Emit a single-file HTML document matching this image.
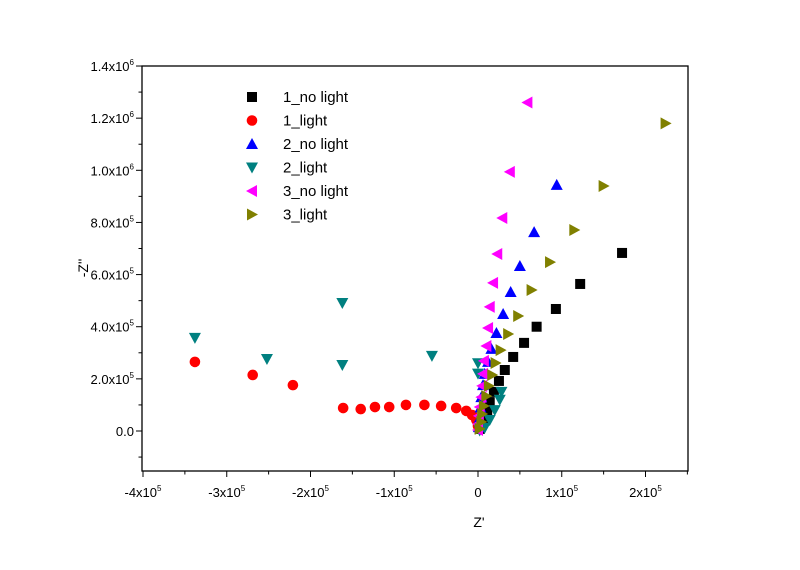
<!DOCTYPE html>
<html><head><meta charset="utf-8"><style>
body{margin:0;background:#fff}
svg text{font-family:"Liberation Sans",Arial,sans-serif;fill:#000}
</style></head><body>
<svg id="c" width="800" height="565" xmlns="http://www.w3.org/2000/svg"></svg>
<script>
const xTicks=[-4,-3,-2,-1,0,1,2];
const yTicks=[0,2,4,6,8,10,12,14];
const seriesNames=["1_no light","1_light","2_no light","2_light","3_no light","3_light"];
const s1nx=[1.72,1.22,0.93,0.70,0.55,0.42,0.32,0.25,0.19,0.14,0.11,0.07,0.05,0.02];
const s1ny=[6.83,5.64,4.68,4.0,3.38,2.84,2.34,1.92,1.5,1.11,0.8,0.5,0.27,0.08];
const s1lx=[-3.38,-2.69,-2.21,-1.61,-1.40,-1.23,-1.06,-0.86,-0.64,-0.44,-0.26,-0.14,-0.07,-0.02,0];
const s1ly=[2.65,2.15,1.76,0.88,0.84,0.92,0.92,1.0,1.0,0.96,0.88,0.77,0.61,0.42,0.19];
const s2nx=[0.94,0.67,0.50,0.39,0.30,0.22,0.16,0.12,0.08,0.06,0.04,0.03,0.02,0.01];
const s2ny=[9.44,7.63,6.33,5.33,4.49,3.76,3.15,2.65,2.19,1.76,1.3,0.9,0.5,0.15];
const s2lx=[-3.38,-2.52,-1.62,-1.62,-0.55,0,0,0.28,0.26,0.20,0.14,0.08,0.02];
const s2ly=[3.57,2.76,4.91,2.53,2.88,2.6,2.2,1.5,1.2,0.8,0.42,0.12,0.02];
const s3nx=[0.59,0.38,0.29,0.23,0.18,0.14,0.12,0.10,0.07,0.06,0.05,0.04,0.02,0.01,0,0];
const s3ny=[12.6,9.94,8.17,6.79,5.68,4.76,3.95,3.26,2.69,2.19,1.73,1.3,0.92,0.58,0.27,0.04];
const s3lx=[2.24,1.50,1.15,0.86,0.64,0.48,0.36,0.27,0.21,0.17,0.13,0.10,0.07,0.05,0.04,0.02];
const s3ly=[11.8,9.4,7.71,6.48,5.41,4.41,3.72,3.1,2.61,2.15,1.73,1.34,0.96,0.65,0.35,0.08];
const NS="http://www.w3.org/2000/svg",svg=document.getElementById('c');
const X0=478,XS=83.75,Y0=431,YS=26.07;
const sx=v=>X0+v*XS, sy=v=>Y0-v*YS;
function mk(t,a,p){const e=document.createElementNS(NS,t);for(const k in a)e.setAttribute(k,a[k]);(p||svg).appendChild(e);return e;}
const L=142,R=688,T=66,B=471;
const frame=mk('rect',{x:L,y:T,width:R-L,height:B-T,fill:'none',stroke:'#000','stroke-width':1.3});


for(let v=-4;v<=2.5;v+=0.5){const big=Number.isInteger(v);
 const t=mk('line',{x1:sx(v),x2:sx(v),y1:B,y2:B+(big?6:3.5),stroke:'#000'});}
xTicks.forEach(v=>{const g=mk('text',{x:sx(v),y:497,'text-anchor':'middle','font-size':13});
 
 if(v===0){g.textContent='0';}else{g.textContent=v+'x10';const s=mk('tspan',{'font-size':8,dy:-6},g);s.textContent='5';}});
for(let v=-1;v<=14;v+=1){const big=(v%2===0);
 const t=mk('line',{x1:L,x2:L-(big?6:3.5),y1:sy(v),y2:sy(v),stroke:'#000'});}
yTicks.forEach(v=>{const g=mk('text',{x:134,y:sy(v)+5,'text-anchor':'end','font-size':13});
 
 if(v===0){g.textContent='0.0';}else{const m=v>=10?(v/10).toFixed(1):(v).toFixed(1);g.textContent=m+'x10';const s=mk('tspan',{'font-size':8,dy:-6},g);s.textContent=v>=10?'6':'5';}});
const xt=mk('text',{x:479,y:527,'text-anchor':'middle','font-size':14});xt.textContent="Z'";

const yt=mk('text',{x:88,y:268,'text-anchor':'middle','font-size':14,transform:'rotate(-90 88 268)'});yt.textContent="-Z''";

function marker(kind,x,y,p){
 const c={sq:'#000',ci:'#f00',up:'#00f',dn:'#008080',lf:'#f0f',rt:'#808000'}[kind];
 if(kind==='sq')return mk('rect',{x:x-5,y:y-5,width:10,height:10,fill:c},p);
 if(kind==='ci')return mk('circle',{cx:x,cy:y,r:5.3,fill:c},p);
 let pts;
 if(kind==='up')pts=[[x,y-6],[x-6,y+5],[x+6,y+5]];
 if(kind==='dn')pts=[[x,y+6],[x-6,y-5],[x+6,y-5]];
 if(kind==='lf')pts=[[x-6,y],[x+5,y-6],[x+5,y+6]];
 if(kind==='rt')pts=[[x+6,y],[x-5,y-6],[x-5,y+6]];
 return mk('polygon',{points:pts.map(p=>p.join(',')).join(' '),fill:c},p);
}
const kinds=['sq','ci','up','dn','lf','rt'];
const data=[[s1nx,s1ny],[s1lx,s1ly],[s2nx,s2ny],[s2lx,s2ly],[s3nx,s3ny],[s3lx,s3ly]];
data.forEach((d,i)=>{const g=mk('g',{});
 d[0].forEach((xv,j)=>{const m=marker(kinds[i],sx(xv),sy(d[1][j]),g);});});
seriesNames.forEach((n,i)=>{const y=97+i*23.5;const g=mk('g',{});
 marker(kinds[i],252,y,g);const t=mk('text',{x:283,y:y+5,'font-size':15},g);t.textContent=n;});
</script>
</body></html>
